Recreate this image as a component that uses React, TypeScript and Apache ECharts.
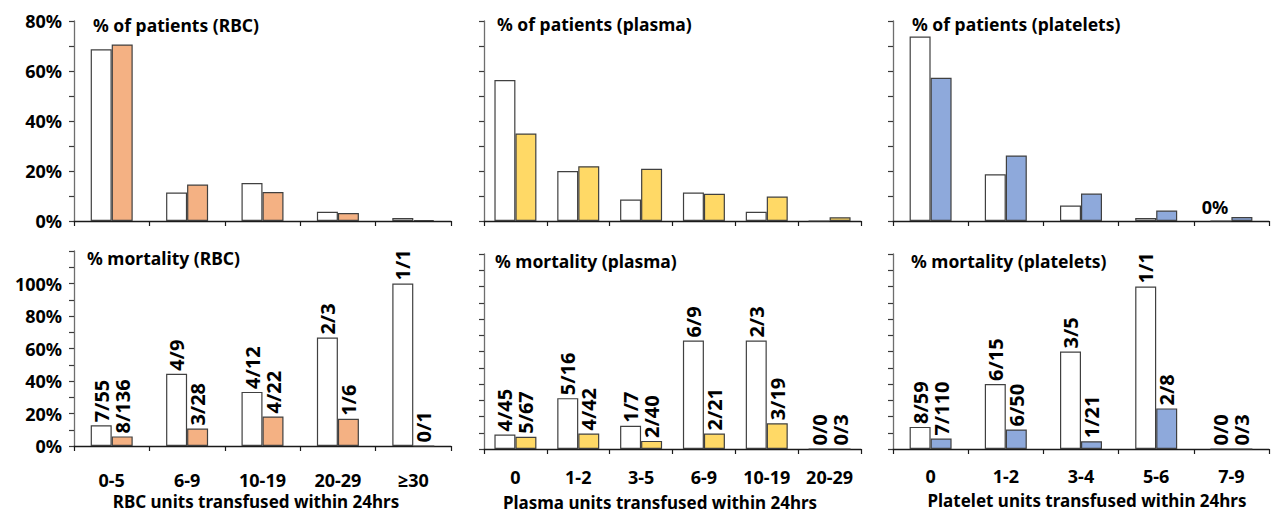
import React, { useEffect, useRef } from "react";
import * as echarts from "echarts";

const rbcCategories = ["0-5", "6-9", "10-19", "20-29", "≥30"];
const plasmaCategories = ["0", "1-2", "3-5", "6-9", "10-19", "20-29"];
const plateletCategories = ["0", "1-2", "3-4", "5-6", "7-9"];

// % of patients (white = first group, coloured = second group)
const rbcPatientsA = [68.7, 11.4, 15.2, 3.7, 1.2];
const rbcPatientsB = [70.6, 14.6, 11.6, 3.2, 0.4];
const plasmaPatientsA = [56.4, 20.0, 8.6, 11.4, 3.7, 0];
const plasmaPatientsB = [35.0, 21.9, 20.9, 10.9, 9.8, 1.5];
const plateletPatientsA = [73.8, 18.7, 6.2, 1.2, 0];
const plateletPatientsB = [57.3, 26.2, 11.0, 4.2, 1.6];
const plateletPatientsALabels = ["", "", "", "", "0%"];

// % mortality
const rbcMortA = [12.7, 44.4, 33.3, 66.7, 100];
const rbcMortB = [5.9, 10.7, 18.2, 16.7, 0];
const rbcMortALabels = ["7/55", "4/9", "4/12", "2/3", "1/1"];
const rbcMortBLabels = ["8/136", "3/28", "4/22", "1/6", "0/1"];
const plasmaMortA = [8.9, 31.3, 14.3, 66.7, 66.7, 0];
const plasmaMortB = [7.5, 9.5, 5.0, 9.5, 15.8, 0];
const plasmaMortALabels = ["4/45", "5/16", "1/7", "6/9", "2/3", "0/0"];
const plasmaMortBLabels = ["5/67", "4/42", "2/40", "2/21", "3/19", "0/3"];
const plateletMortA = [13.6, 40.0, 60.0, 100, 0];
const plateletMortB = [6.4, 12.0, 4.8, 25.0, 0];
const plateletMortALabels = ["8/59", "6/15", "3/5", "1/1", "0/0"];
const plateletMortBLabels = ["7/110", "6/50", "1/21", "2/8", "0/3"];

const topTicks = [0, 20, 40, 60, 80];
const bottomTicks = [0, 20, 40, 60, 80, 100];

const FONT = '"Noto Sans", "Open Sans", sans-serif';
const ORANGE = "#F4B183";
const YELLOW = "#FFD966";
const BLUE = "#8EA9DB";

export default function App() {
  const ref = useRef<HTMLDivElement>(null);

  useEffect(() => {
    if (!ref.current) return;
    const chart = echarts.init(ref.current, undefined, { renderer: "svg" });

    const grids = [
      { left: 74, top: 21, width: 377, height: 200 },
      { left: 484, top: 21, width: 377, height: 200 },
      { left: 893, top: 21, width: 376, height: 200 },
      { left: 74, top: 251, width: 377, height: 195 },
      { left: 484, top: 254, width: 377, height: 195 },
      { left: 893, top: 254, width: 376, height: 195 },
    ];
    const cats = [rbcCategories, plasmaCategories, plateletCategories];
    const labelMargins = [26, 20, 19];

    const xAxes = grids.map((_, i) => ({
      type: "category",
      gridIndex: i,
      data: cats[i % 3],
      boundaryGap: true,
      axisLine: { show: true, lineStyle: { color: "#1a1a1a", width: 1.3 } },
      axisTick: { show: true, length: 5, lineStyle: { color: "#1a1a1a", width: 1.2 } },
      axisLabel: {
        show: i >= 3,
        margin: labelMargins[i % 3],
        fontFamily: FONT,
        fontWeight: "bold",
        fontSize: 18,
        lineHeight: 16,
        color: "#000",
        interval: 0,
      },
    }));

    const yAxes = grids.map((_, i) => {
      const top = i < 3;
      const ticks = top ? topTicks : bottomTicks;
      return {
        type: "value",
        gridIndex: i,
        min: 0,
        max: top ? 80 : 120,
        interval: 10,
        splitLine: { show: false },
        axisLine: { show: true, lineStyle: { color: "#6e6e6e", width: 1.3 } },
        axisTick: { show: true, length: 5, lineStyle: { color: "#3a3a3a", width: 1.2 } },
        axisLabel: {
          show: i % 3 === 0,
          margin: 12,
          fontFamily: FONT,
          fontWeight: "bold",
          fontSize: 18,
          color: "#000",
          formatter: (v: number) => (ticks.indexOf(v) >= 0 ? v + "%" : ""),
        },
      };
    });

    const mkSeries = (
      idx: number,
      data: number[],
      color: string,
      labels?: string[],
      rotated = true
    ) => ({
      type: "bar",
      xAxisIndex: idx,
      yAxisIndex: idx,
      data,
      barWidth: 21,
      barGap: "0%",
      silent: true,
      itemStyle: { color, borderColor: "#404040", borderWidth: 1.2 },
      label: labels
        ? rotated
          ? {
              show: true,
              position: "top",
              rotate: 90,
              align: "left",
              verticalAlign: "middle",
              distance: 3,
              fontFamily: FONT,
              fontWeight: "bold",
              fontSize: 20,
              color: "#000",
              formatter: (p: any) => labels[p.dataIndex],
            }
          : {
              show: true,
              position: "top",
              distance: 4,
              offset: [-6, 0],
              fontFamily: FONT,
              fontWeight: "bold",
              fontSize: 18,
              color: "#000",
              formatter: (p: any) => labels[p.dataIndex],
            }
        : { show: false },
    });

    const series = [
      mkSeries(0, rbcPatientsA, "#ffffff"),
      mkSeries(0, rbcPatientsB, ORANGE),
      mkSeries(1, plasmaPatientsA, "#ffffff"),
      mkSeries(1, plasmaPatientsB, YELLOW),
      mkSeries(2, plateletPatientsA, "#ffffff", plateletPatientsALabels, false),
      mkSeries(2, plateletPatientsB, BLUE),
      mkSeries(3, rbcMortA, "#ffffff", rbcMortALabels),
      mkSeries(3, rbcMortB, ORANGE, rbcMortBLabels),
      mkSeries(4, plasmaMortA, "#ffffff", plasmaMortALabels),
      mkSeries(4, plasmaMortB, YELLOW, plasmaMortBLabels),
      mkSeries(5, plateletMortA, "#ffffff", plateletMortALabels),
      mkSeries(5, plateletMortB, BLUE, plateletMortBLabels),
    ];

    const txt = (text: string, x: number, y: number, size: number, align = "left") => ({
      type: "text",
      x,
      y,
      silent: true,
      style: {
        text,
        fill: "#000",
        font: `bold ${size}px ${FONT}`,
        lineHeight: size - 2,
        textAlign: align,
        textVerticalAlign: "middle",
      },
    });

    const graphic = [
      txt("% of patients (RBC)", 93, 24.5, 17.5),
      txt("% of patients (plasma)", 497, 24, 17.5),
      txt("% of patients (platelets)", 912, 24, 17.5),
      txt("% mortality (RBC)", 87, 257.5, 17.5),
      txt("% mortality (plasma)", 495, 261, 17.5),
      txt("% mortality (platelets)", 911, 261, 17.5),
      txt("RBC units transfused within 24hrs", 256, 501, 17, "center"),
      txt("Plasma units transfused within 24hrs", 660, 502, 17, "center"),
      txt("Platelet units transfused within 24hrs", 1087, 500, 17, "center"),
    ];

    chart.setOption({
      animation: false,
      backgroundColor: "#ffffff",
      grid: grids,
      xAxis: xAxes,
      yAxis: yAxes,
      series,
      graphic,
    });

    return () => chart.dispose();
  }, []);

  return (
    <div
      ref={ref}
      style={{ position: "fixed", left: 0, top: 0, width: 1277, height: 512, background: "#fff" }}
    />
  );
}
